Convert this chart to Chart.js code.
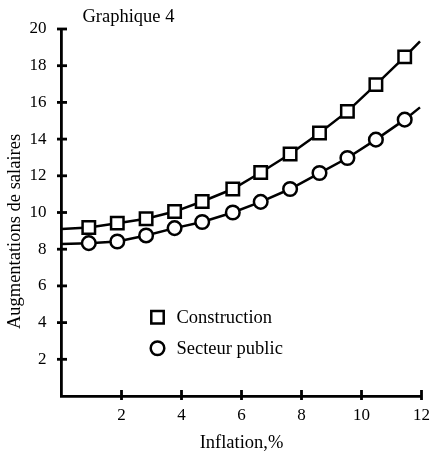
<!DOCTYPE html>
<html><head><meta charset="utf-8">
<script src="https://cdn.jsdelivr.net/npm/chart.js@4/dist/chart.umd.min.js"></script>
<style>html,body{margin:0;padding:0;background:#fff;}#wrap{width:439px;height:458px;}</style>
</head><body><div id="wrap"><canvas id="c" width="439" height="458"></canvas></div>
<script>
const titleText = 'Graphique 4';
const xTitle = 'Inflation,%';
const yTitle = 'Augmentations de salaires';
const seriesNames = ['Construction', 'Secteur public'];
const inflation = [0, 0.91, 1.86, 2.82, 3.77, 4.69, 5.71, 6.64, 7.62, 8.60, 9.53, 10.48, 11.44, 11.95];
const construction = [9.10, 9.18, 9.42, 9.66, 10.05, 10.60, 11.28, 12.18, 13.19, 14.33, 15.51, 16.97, 18.48, 19.33];
const secteurPublic = [8.28, 8.33, 8.42, 8.75, 9.15, 9.48, 10.00, 10.58, 11.28, 12.15, 12.97, 13.97, 15.06, 15.73];
const xTicks = [2, 4, 6, 8, 10, 12];
const yTicks = [2, 4, 6, 8, 10, 12, 14, 16, 18, 20];

const FONT = '"Liberation Serif", "Times New Roman", serif';
const RECT_R = 8.8;
const CIRC_R = 6.8;
const toPts = ys => ys.map((v, i) => ({x: inflation[i], y: v}));
const radiusFor = r => ctx => (ctx.dataIndex === 0 || ctx.dataIndex === inflation.length - 1) ? 0 : r;

const decor = {
  id: 'decor',
  afterDraw(chart) {
    const {ctx, chartArea, scales: {x, y}} = chart;
    ctx.save();
    ctx.strokeStyle = '#000';
    ctx.fillStyle = '#000';
    ctx.lineWidth = 2.8;
    // crossing tick marks
    y.ticks.forEach(t => {
      const py = y.getPixelForValue(t.value);
      ctx.beginPath(); ctx.moveTo(chartArea.left - 4.5, py); ctx.lineTo(chartArea.left + 5.5, py); ctx.stroke();
    });
    x.ticks.forEach(t => {
      const px = x.getPixelForValue(t.value);
      ctx.beginPath(); ctx.moveTo(px, chartArea.bottom - 6); ctx.lineTo(px, chartArea.bottom + 4); ctx.stroke();
    });
    // title
    ctx.font = '18.5px ' + FONT;
    ctx.textAlign = 'left';
    ctx.textBaseline = 'middle';
    ctx.fillText(titleText, chartArea.left + 21, 17);
    // legend
    const lx = x.getPixelForValue(3.2);
    const rows = [y.getPixelForValue(4.29), y.getPixelForValue(2.6)];
    ctx.lineWidth = 2.5;
    ctx.font = '18.5px ' + FONT;
    chart.data.datasets.forEach((ds, i) => {
      const py = rows[i];
      ctx.fillStyle = '#fff';
      ctx.beginPath();
      if (ds.pointStyle === 'rect') {
        const s = RECT_R * Math.SQRT1_2;
        ctx.rect(lx - s, py - s, 2 * s, 2 * s);
      } else {
        ctx.arc(lx, py, CIRC_R, 0, Math.PI * 2);
      }
      ctx.fill(); ctx.stroke();
      ctx.fillStyle = '#000';
      ctx.textAlign = 'left';
      ctx.textBaseline = 'middle';
      ctx.fillText(ds.label, lx + 19, py + 1);
    });
    // y axis title
    ctx.save();
    ctx.translate(15, (chartArea.top + chartArea.bottom) / 2 + 19);
    ctx.rotate(-Math.PI / 2);
    ctx.textAlign = 'center';
    ctx.textBaseline = 'middle';
    ctx.font = '18.5px ' + FONT;
    ctx.fillText(yTitle, 0, 0);
    ctx.restore();
    ctx.restore();
  }
};

const dsStyle = {
  borderColor: '#000', borderWidth: 2.5, pointBackgroundColor: '#fff', pointBorderColor: '#000', pointBorderWidth: 2.5,
  tension: 0, fill: false, clip: false
};

new Chart(document.getElementById('c'), {
  type: 'line',
  data: {
    datasets: [
      Object.assign({label: seriesNames[0], data: toPts(construction), pointStyle: 'rect', pointRadius: radiusFor(RECT_R)}, dsStyle),
      Object.assign({label: seriesNames[1], data: toPts(secteurPublic), pointStyle: 'circle', pointRadius: radiusFor(CIRC_R)}, dsStyle)
    ]
  },
  options: {
    responsive: false,
    animation: false,
    layout: {padding: {top: 29, right: 10, left: 0, bottom: 0}},
    plugins: {legend: {display: false}, tooltip: {enabled: false}, title: {display: false}},
    scales: {
      x: {
        type: 'linear', min: 0, max: 12,
        afterBuildTicks: s => { s.ticks = xTicks.map(v => ({value: v})); },
        afterFit: s => { s.height = 62; },
        grid: {display: false, drawTicks: false},
        border: {display: true, color: '#000', width: 2.8},
        ticks: {color: '#000', font: {family: FONT, size: 17}, padding: 9, maxRotation: 0, autoSkip: false},
        title: {display: true, text: xTitle, color: '#000', font: {family: FONT, size: 18.5}, padding: {top: 0, bottom: 4}}
      },
      y: {
        type: 'linear', min: 0, max: 20,
        afterBuildTicks: s => { s.ticks = yTicks.map(v => ({value: v})); },
        afterFit: s => { s.width = 61.5; },
        grid: {display: false, drawTicks: false},
        border: {display: true, color: '#000', width: 2.8},
        ticks: {color: '#000', font: {family: FONT, size: 17}, padding: 15, autoSkip: false}
      }
    }
  },
  plugins: [decor]
});
</script></body></html>
